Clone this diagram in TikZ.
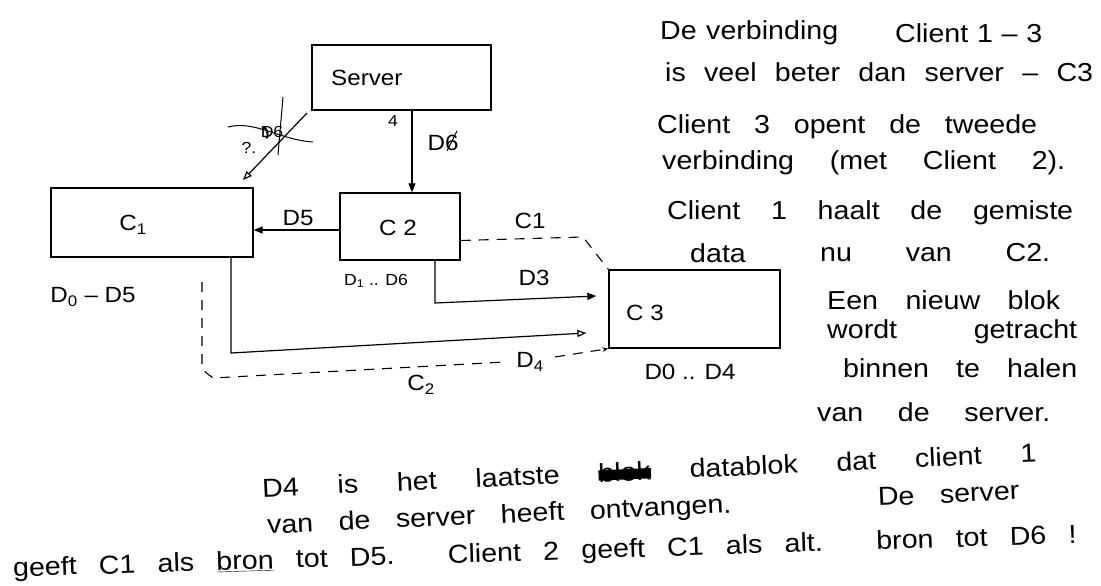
\documentclass[tikz,border=0pt]{standalone}
\usepackage{fontspec}
\setmainfont[FakeStretch=1.1]{Liberation Sans}
\usetikzlibrary{arrows.meta,calc}
\newsavebox\strikebox
\newcommand\scribbled[1]{\sbox\strikebox{#1}\rlap{\usebox\strikebox}\rule[0.1ex]{\wd\strikebox}{0.75ex}}
\begin{document}
\begin{tikzpicture}[x=1pt,y=-1pt,
  box/.style={draw,line width=1.3pt,inner sep=0pt},
  conn/.style={line width=1.2pt,-{Triangle[length=9pt,width=7pt]}},
  openconn/.style={line width=1.2pt,-{Triangle[open,length=9pt,width=7pt]}},
  dashln/.style={line width=1.1pt,dash pattern=on 10pt off 8pt},
  lbl/.style={font=\fontsize{22}{24}\selectfont,inner sep=1pt},
  small/.style={font=\fontsize{16}{18}\selectfont,inner sep=1pt},
  note/.style={font=\fontsize{26}{28}\selectfont,inner sep=0pt,anchor=west},
  scrib/.style={line width=1pt}]
\useasboundingbox (0,0) rectangle (1101,586);

% boxes
\node[box,minimum width=179pt,minimum height=65pt] (server) at (401.5,77.5) {};
\node[lbl,anchor=west] (servertxt) at (330,78) {Server};
\node[box,minimum width=202pt,minimum height=69pt] (c1) at (152,222.5) {};
\node[lbl] (c1txt) at (133,225) {C\textsubscript{1}};
\node[box,minimum width=120pt,minimum height=67pt] (c2) at (400,226.5) {};
\node[lbl] (c2txt) at (398,228) {C 2};
\node[box,minimum width=171pt,minimum height=78pt] (c3) at (694.5,309) {};
\node[lbl] (c3txt) at (645,313) {C 3};

% labels under boxes
\node[lbl] (d05) at (93,297) {D\textsubscript{0} -- D5};
\node[small] (d16) at (376,281) {D\textsubscript{1} .. D6};
\node[lbl] (d04) at (690,372) {D0 .. D4};

% server -> C2
\draw[conn] ([xshift=10.5pt]server.south) -- ([xshift=10.5pt]server.south |- c2.north);
\node[small] (four) at (393,121) {4};
\node[lbl] (d6lbl) at (443,143) {D6};
\draw[scrib] (447,151) -- (457,131);

% crossed-out server -> C1
\coordinate (xs) at (307,113);
\coordinate (xe) at (243,180);
\draw[openconn] (xs) -- (xe);
\node[small] (d6x) at (272,132) {D6};
\draw[scrib] (228,127) .. controls (255,120) and (280,140) .. (313,142);
\draw[scrib] (283,97) -- (278,155);
\draw[line width=2pt] (262,128) .. controls (266,124) and (270,138) .. (266,138);
\node[small] (qm) at (249,148) {?.};

% C2 -> C1
\draw[conn] ([yshift=-3.5pt]c2.west) -- ([yshift=-3.5pt]c2.west -| c1.east);
\node[lbl] (d5lbl) at (298,218) {D5};

% C2 -> C3 (D3)
\coordinate (d3a) at (435,303);
\draw[conn] ([xshift=35pt]c2.south) -- (d3a) -- ([yshift=13pt,xshift=-12pt]c3.west);
\node[lbl] (d3lbl) at (534,278) {D3};

% C1 -> C3 (D4)
\coordinate (d4a) at (231,353);
\draw[openconn] ([xshift=79pt]c1.south) -- (d4a) -- ([yshift=-24pt,xshift=-22pt]c3.west);
\node[lbl] (d4lbl) at (530,362) {D\textsubscript{4}};

% dashed C1 connection
\coordinate (k1) at (583,237);
\draw[dashln] ([yshift=-14pt]c2.east) -- (k1) -- (c3.north west);
\node[lbl] (c1lbl) at (530,221) {C1};

% dashed C2 connection
\coordinate (k2) at (202,282);
\coordinate (k3) at (202,367);
\coordinate (k4) at (213,378);
\draw[dashln] (k2) -- (k3) .. controls (205,372) .. (k4) -- (505,362);
\draw[dashln,-{Stealth[length=6pt]}] (555,357) -- (c3.south west);
\node[lbl] (c2lbl) at (421,385) {C\textsubscript{2}};

% right-hand notes
\node[note] (r1a) at (660,33) {\makebox[178pt][s]{De verbinding}};
\node[note] (r1b) at (895,33) {\makebox[147pt][s]{Client 1 – 3}};
\node[note] (r2) at (665,72) {\makebox[428pt][s]{is veel beter dan server – C3}};
\node[note] (r3) at (657,127) {\makebox[380pt][s]{Client 3 opent de tweede}};
\node[note] (r4) at (662,163) {\makebox[403pt][s]{verbinding (met Client 2).}};
\node[note] (r5) at (667,213) {\makebox[406pt][s]{Client 1 haalt de gemiste}};
\node[note] (r6a) at (690,253) {data};
\node[note] (r6b) at (820,253) {\makebox[230pt][s]{nu van C2.}};
\node[note] (r7) at (827,300) {\makebox[233pt][s]{Een nieuw blok}};
\node[note] (r8) at (827,332) {\makebox[250pt][s]{wordt getracht}};
\node[note] (r9) at (843,368) {\makebox[234pt][s]{binnen te halen}};
\node[note] (r10) at (817,412) {\makebox[233pt][s]{van de server.}};

% bottom notes
\node[note,rotate=2.6] (b1) at (262,488) {\makebox[775pt][s]{D4 is het laatste \scribbled{blok} datablok dat client 1}};
\node[note,rotate=2.6] (b2) at (267,527) {\makebox[753pt][s]{van de server heeft ontvangen. \hspace{20pt} De server}};
\node[note,rotate=1.8] (b3) at (13,570) {\makebox[1064pt][s]{geeft C1 als \underline{bron} tot D5. Client 2 geeft C1 als alt. bron tot D6 !}};
\end{tikzpicture}
\end{document}
